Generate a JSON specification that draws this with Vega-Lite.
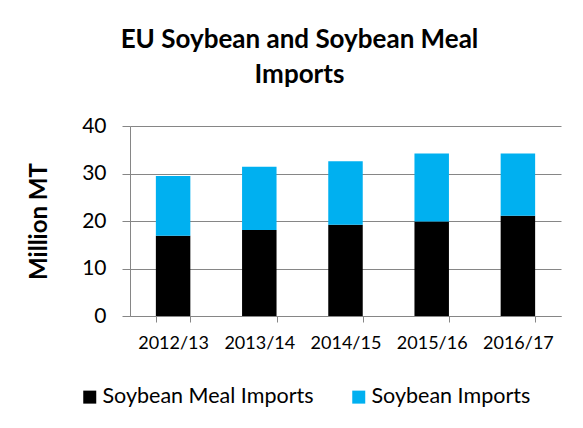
{
  "$schema": "https://vega.github.io/schema/vega-lite/v6.json",
  "width": 431,
  "height": 190,
  "autosize": {"type": "none"},
  "padding": {"left": 130, "top": 126, "right": 22, "bottom": 112},
  "background": "white",
  "title": {
    "text": ["EU Soybean and Soybean Meal", "Imports"],
    "font": "Lato",
    "fontSize": 26,
    "fontWeight": "bold",
    "color": "#000000",
    "lineHeight": 35,
    "anchor": "middle",
    "dx": -46,
    "baseline": "alphabetic",
    "offset": 6
  },
  "data": {
    "values": [
      {"year": "2012/13", "series": "Soybean Meal Imports", "value": 16.9},
      {"year": "2013/14", "series": "Soybean Meal Imports", "value": 18.1},
      {"year": "2014/15", "series": "Soybean Meal Imports", "value": 19.2},
      {"year": "2015/16", "series": "Soybean Meal Imports", "value": 19.9},
      {"year": "2016/17", "series": "Soybean Meal Imports", "value": 21.1},
      {"year": "2012/13", "series": "Soybean Imports", "value": 12.6},
      {"year": "2013/14", "series": "Soybean Imports", "value": 13.3},
      {"year": "2014/15", "series": "Soybean Imports", "value": 13.4},
      {"year": "2015/16", "series": "Soybean Imports", "value": 14.3},
      {"year": "2016/17", "series": "Soybean Imports", "value": 13.1}
    ]
  },
  "mark": {"type": "bar"},
  "encoding": {
    "x": {
      "field": "year",
      "type": "nominal",
      "sort": null,
      "scale": {"paddingInner": 0.6, "paddingOuter": 0.3},
      "axis": {
        "title": null,
        "labelAngle": 0,
        "labelFont": "Lato",
        "labelFontSize": 18,
        "labelColor": "#000000",
        "labelPadding": 12,
        "tickBand": "extent",
        "tickSize": 6,
        "tickColor": "#868686",
        "domainColor": "#868686",
        "grid": false
      }
    },
    "y": {
      "field": "value",
      "type": "quantitative",
      "stack": "zero",
      "scale": {"domain": [0, 40]},
      "axis": {
        "title": "Million MT",
        "titleFont": "Lato",
        "titleFontSize": 24,
        "titleFontWeight": "bold",
        "titleColor": "#000000",
        "titlePadding": 30,
        "values": [0, 10, 20, 30, 40],
        "labelFont": "Lato",
        "labelFontSize": 21,
        "labelColor": "#000000",
        "labelPadding": 16,
        "tickSize": 8,
        "tickColor": "#868686",
        "domainColor": "#868686",
        "grid": true,
        "gridColor": "#868686"
      }
    },
    "color": {
      "field": "series",
      "type": "nominal",
      "scale": {
        "domain": ["Soybean Meal Imports", "Soybean Imports"],
        "range": ["#000000", "#00B0F0"]
      },
      "legend": {
        "title": null,
        "orient": "none",
        "legendX": -51,
        "legendY": 260,
        "direction": "horizontal",
        "symbolType": "square",
        "symbolSize": 169,
        "symbolStrokeWidth": 0,
        "labelFont": "Lato",
        "labelFontSize": 21.5,
        "labelColor": "#000000",
        "labelLimit": 400,
        "labelOffset": 2,
        "columnPadding": 34
      }
    },
    "order": {"field": "series", "sort": "descending"}
  },
  "config": {
    "view": {"stroke": null},
    "axis": {"gridOpacity": 1}
  }
}
